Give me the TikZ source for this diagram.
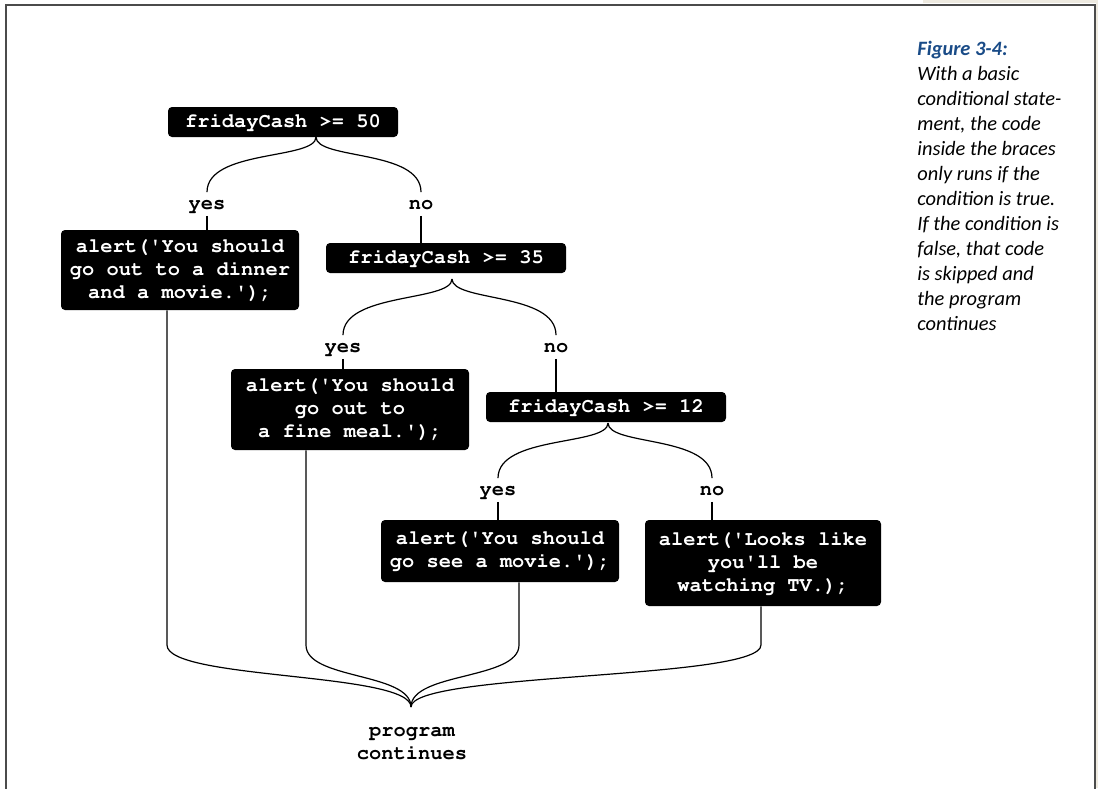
\documentclass[tikz,border=0pt]{standalone}
\usepackage[T1]{fontenc}
\usepackage{fontspec}
\newfontfamily\capfont{Carlito}
\newcommand\codefont{\fontencoding{T1}\fontfamily{pcr}\bfseries}
\newcommand\q{\textquotesingle}
\definecolor{framegray}{RGB}{75,75,75}
\definecolor{pagebeige}{RGB}{238,234,224}
\definecolor{figblue}{RGB}{25,75,135}
\begin{document}
\begin{tikzpicture}[x=0.5pt,y=-0.5pt,
		plain/.style={align=center,font=\codefont\fontsize{10.2}{11.5}\selectfont},
		code/.style={plain,fill=black,text=white,rounded corners=2pt,inner sep=0pt},
		answer/.style={plain,inner xsep=1pt,inner ysep=3pt,text height=5.5pt,text depth=0pt},
		wire/.style={line width=0.6pt}]
		
		\useasboundingbox (0,0) rectangle (1098,788);
		\fill[pagebeige] (923,0) rectangle (1098,3);
		\fill[pagebeige] (1096,0) rectangle (1098,788);
		\draw[framegray,line width=1pt] (5.5,790) -- (5.5,4.5) -- (1095,4.5) -- (1095,790);
		
		\node[code,minimum width=115pt,minimum height=15pt] (c50) at (283,122) {fridayCash >= 50};
		\node[code,minimum width=119pt,minimum height=40pt] (dinner) at (180,270) {alert(\q You should\\go out to a dinner\\and a movie.\q);};
		\node[code,minimum width=120pt,minimum height=15pt] (c35) at (446,258) {fridayCash >= 35};
		\node[code,minimum width=119pt,minimum height=40.5pt] (meal) at (350,409.5) {alert(\q You should\\go out to\\a fine meal.\q);};
		\node[code,minimum width=120pt,minimum height=15pt] (c12) at (606,407) {fridayCash >= 12};
		\node[code,minimum width=119pt,minimum height=31pt] (movie) at (500,551) {alert(\q You should\\go see a movie.\q);};
		\node[code,minimum width=118pt,minimum height=43pt] (tv) at (763,563) {alert(\q Looks like\\you\q ll be\\watching TV.);};
		
		\node[answer] (yes1) at (207,204) {yes};
		\node[answer] (no1) at (421,204) {no};
		\node[answer] (yes2) at (343,347) {yes};
		\node[answer] (no2) at (556,347) {no};
		\node[answer] (yes3) at (498,490) {yes};
		\node[answer] (no3) at (712,490) {no};
		\node[plain] (cont) at (412,744) {program\\continues};
		
		\coordinate (fork50) at (316,137);
		\coordinate (fork35) at (452,279);
		\coordinate (fork12) at (608,423);
		\coordinate (join) at (411,707);
		\coordinate (legs) at (0,645);
		
		\foreach \fork/\yes/\no in {fork50/yes1/no1,fork35/yes2/no2,fork12/yes3/no3}
		{
			\draw[wire] (\fork) .. controls +(0,23) and +(0,-43) .. (\yes.north);
			\draw[wire] (\fork) .. controls +(0,23) and +(0,-43) .. (\no.north);
		}
		\draw[wire] (yes1.south) -- (yes1.south |- dinner.north);
		\draw[wire] (no1.south) -- (no1.south |- c35.north);
		\draw[wire] (yes2.south) -- (yes2.south |- meal.north);
		\draw[wire] (no2.south) -- (no2.south |- c12.north);
		\draw[wire] (yes3.south) -- (yes3.south |- movie.north);
		\draw[wire] (no3.south) -- (no3.south |- tv.north);
		
		\foreach \blk/\shift in {dinner/-13,meal/-44,movie/19,tv/-2}
			\draw[wire] ([xshift=\shift*0.5pt]\blk.south) coordinate (top) -- (top |- legs) .. controls +(0,35) and +(0,-35) .. (join);
		
		\node[anchor=north west,align=left,inner sep=0pt,font=\capfont\itshape\fontsize{10.2}{12.5}\selectfont] (cap) at (917,41)
			{{\bfseries\color{figblue}Figure 3-4:}\\With a basic\\conditional state-\\ment, the code\\inside the braces\\only runs if the\\condition is true.\\If the condition is\\false, that code\\is skipped and\\the program\\continues};
		\end{tikzpicture}
\end{document}
